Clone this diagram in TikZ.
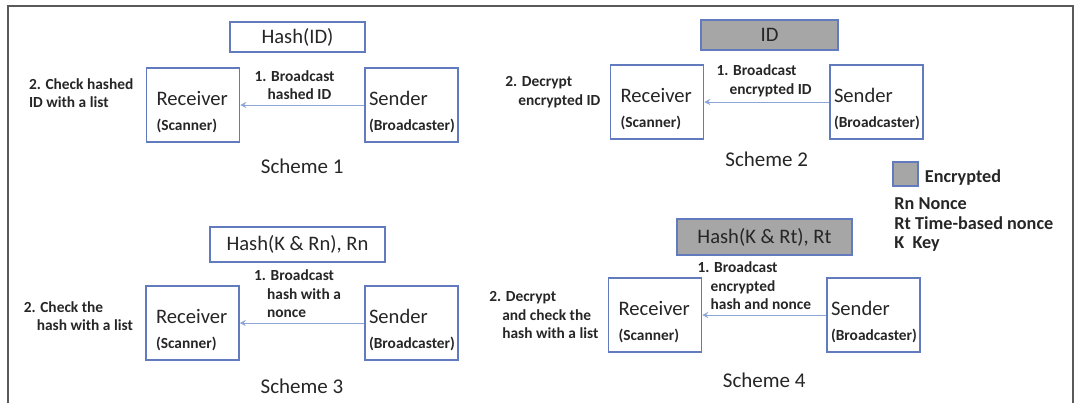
\documentclass[tikz,border=0pt]{standalone}
\usepackage{fontspec}
\setmainfont{Carlito}
\usepackage{tikz}
\usetikzlibrary{arrows.meta,positioning,calc}

\definecolor{boxblue}{RGB}{98,122,190}
\definecolor{encgray}{RGB}{166,166,166}
\definecolor{flowblue}{RGB}{140,165,215}
\definecolor{framegray}{RGB}{90,90,90}

\newcommand{\bigfnt}{\fontsize{10.3}{12.5}\selectfont}
\newcommand{\smfnt}{\fontsize{7.7}{9.2}\selectfont\bfseries}
\newcommand{\indt}{\hspace*{6.5pt}}

\begin{document}
\begin{tikzpicture}[x=0.5pt,y=-0.5pt,
  font=\bigfnt,text=black!85,
  unit/.style={draw=boxblue,line width=0.75pt,minimum width=46.5pt,minimum height=37pt,
    align=left,text height=14.5pt,inner ysep=0pt},
  recv/.style={unit,inner xsep=5pt,text width=36.5pt},
  send/.style={unit,inner xsep=2pt,text width=42.5pt},
  msg/.style={draw=boxblue,line width=0.75pt,minimum height=15pt,inner sep=0pt},
  msgenc/.style={msg,fill=encgray},
  lbl/.style={font=\smfnt,align=left,inner sep=0pt},
  flow/.style={draw=flowblue,line width=0.5pt,-{Stealth[length=3pt,width=3pt]}},
  schm/.style={font=\fontsize{10.5}{12}\selectfont},
  keytxt/.style={font=\fontsize{9.1}{9.8}\selectfont\bfseries,align=left,inner sep=0pt}]

\useasboundingbox (0,0) rectangle (1081,403);
\draw[framegray,line width=0.75pt] (8,403) -- (8,6) -- (1073,6) -- (1073,403);

% --- scheme 1: plain hashed ID ---
\node[recv] (r1) at (193,105) {Receiver\\{\smfnt (Scanner)}};
\node[send] (s1) at (411.5,105) {Sender\\{\smfnt (Broadcaster)}};
\node[msg,minimum width=67.5pt] (h1) at (297.5,37) {Hash(ID)};
\draw[flow] (s1) -- (r1);
\node[lbl,anchor=south west] (b1) at ([xshift=7pt,yshift=2.5pt]r1.east) {1. Broadcast\\\indt hashed ID};
\node[lbl,anchor=east] (c1) at ([xshift=-6pt,yshift=6pt]r1.west) {2. Check hashed\\ID with a list};
\node[schm] (n1) at ([yshift=-12pt]$(r1.south)!0.5!(s1.south)$) {Scheme 1};

% --- scheme 2: encrypted ID ---
\node[recv] (r2) at (657,102) {Receiver\\{\smfnt (Scanner)}};
\node[send] (s2) at (876.5,102) {Sender\\{\smfnt (Broadcaster)}};
\node[msgenc,minimum width=68.5pt] (h2) at (769.5,35) {ID};
\draw[flow] (s2) -- (r2);
\node[lbl,anchor=south west] (b2) at ([xshift=6pt,yshift=2.5pt]r2.east) {1. Broadcast\\\indt encrypted ID};
\node[lbl,anchor=east] (c2) at ([xshift=-4.5pt,yshift=5pt]r2.west) {2. Decrypt\\\indt encrypted ID};
\node[schm] (n2) at ([yshift=-10pt]$(r2.south)!0.5!(s2.south)$) {Scheme 2};

% --- legend ---
\node[msgenc,minimum width=12.5pt,minimum height=12pt,anchor=north west] (enc) at (892,161) {};
\node[keytxt,anchor=west] (enct) at ([xshift=3pt,yshift=-2pt]enc.east) {Encrypted};
\node[keytxt,anchor=north west] (keys) at ([xshift=1pt,yshift=-5.5pt]enc.south west)
  {Rn Nonce\\Rt Time-based nonce\\K\ \ Key};

% --- scheme 3: keyed hash with a nonce ---
\node[recv] (r3) at (192.5,323) {Receiver\\{\smfnt (Scanner)}};
\node[send] (s3) at (411.5,323) {Sender\\{\smfnt (Broadcaster)}};
\node[msg,minimum width=87.5pt,minimum height=17.5pt] (h3) at (297.5,244.5) {Hash(K \& Rn), Rn};
\draw[flow] (s3) -- (r3);
\node[lbl,anchor=south west] (b3) at ([xshift=7pt,yshift=2.5pt]r3.east) {1. Broadcast\\\indt hash with a\\\indt nonce};
\node[lbl,anchor=east] (c3) at ([xshift=-6pt,yshift=3.5pt]r3.west) {2. Check the\\\indt hash with a list};
\node[schm] (n3) at ([yshift=-13pt]$(r3.south)!0.5!(s3.south)$) {Scheme 3};

% --- scheme 4: encrypted hash and time-based nonce ---
\node[recv] (r4) at (655,315) {Receiver\\{\smfnt (Scanner)}};
\node[send] (s4) at (873.5,315) {Sender\\{\smfnt (Broadcaster)}};
\node[msgenc,minimum width=87.5pt,minimum height=18pt] (h4) at (764.5,237) {Hash(K \& Rt), Rt};
\draw[flow] (s4) -- (r4);
\node[lbl,anchor=south west] (b4) at ([xshift=-2.5pt,yshift=2.5pt]r4.east) {1. Broadcast\\\indt encrypted\\\indt hash and nonce};
\node[lbl,anchor=east] (c4) at ([xshift=-4.5pt]r4.west) {2. Decrypt\\\indt and check the\\\indt hash with a list};
\node[schm] (n4) at ([yshift=-14pt]$(r4.south)!0.5!(s4.south)$) {Scheme 4};
\end{tikzpicture}
\end{document}
